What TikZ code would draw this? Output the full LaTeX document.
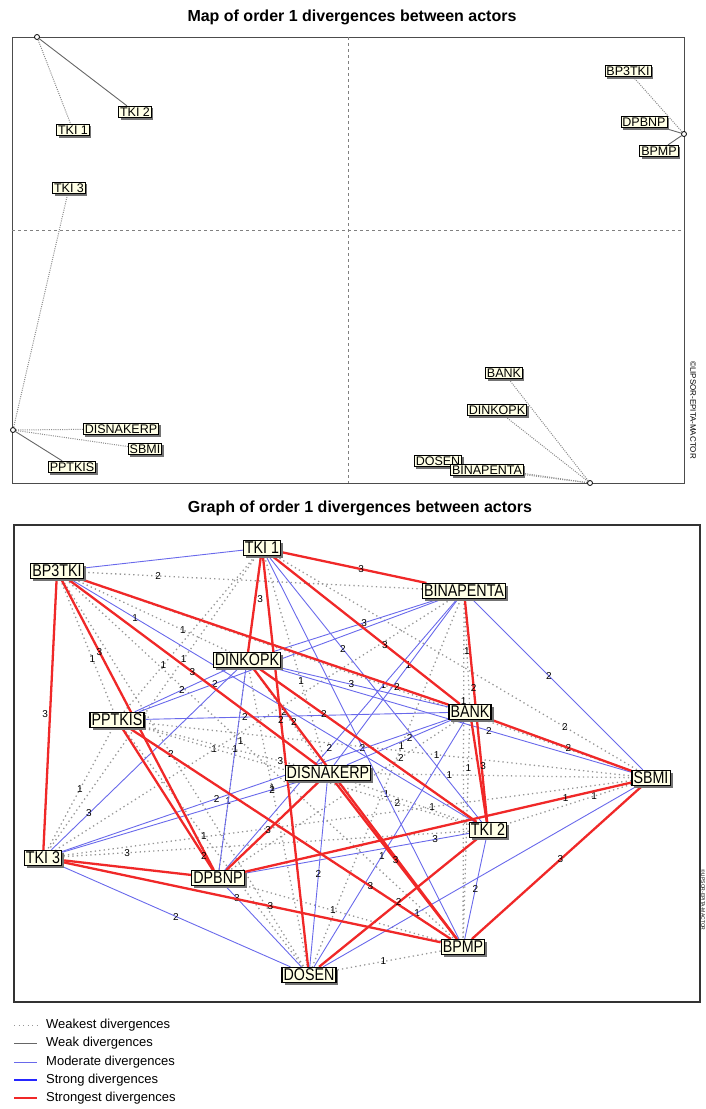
\documentclass[tikz,border=0pt]{standalone}
\usepackage{fontspec}
\setmainfont{Liberation Sans}
\newfontfamily\narrowfont{Liberation Sans}[FakeStretch=0.84]
\usetikzlibrary{shadows,backgrounds}

\definecolor{boxfill}{RGB}{255,255,230}
\definecolor{divred}{RGB}{240,40,40}
\definecolor{divblue}{RGB}{105,105,235}
\definecolor{divgray}{RGB}{150,150,150}

\tikzset{
  actor/.style={draw=black, fill=boxfill, line width=1.1pt, inner sep=1.6pt,
    font=\narrowfont\fontsize{17}{17}\selectfont,
    drop shadow={shadow xshift=2.5pt, shadow yshift=-2.5pt, fill=black!55, opacity=1}},
  mapactor/.style={draw=black, fill=boxfill, line width=0.8pt, inner sep=1.4pt,
    font=\fontsize{12.5}{12.5}\selectfont,
    drop shadow={shadow xshift=2pt, shadow yshift=-2pt, fill=black!55, opacity=1}},
  pt/.style={circle, draw, fill=white, inner sep=0pt, minimum size=5pt, line width=0.8pt},
  weakest/.style={divgray, line width=1.3pt, dash pattern=on 1.3pt off 3.2pt},
  mapdot/.style={black!45, line width=1pt, dash pattern=on 1pt off 1.2pt},
  weak/.style={black!60, line width=0.9pt},
  moderate/.style={divblue, line width=0.9pt},
  strong/.style={blue!85, line width=2pt},
  strongest/.style={divred, line width=2.3pt},
  num/.style={text=black, font=\fontsize{10}{10}\selectfont, inner sep=1pt},
  title/.style={font=\bfseries\fontsize{16}{16}\selectfont},
  legtext/.style={font=\fontsize{13}{13}\selectfont, anchor=west, inner sep=0pt},
}

\begin{document}
\begin{tikzpicture}[x=1pt,y=-1pt]
\useasboundingbox (0,0) rectangle (705,1109);

% map of divergences
\node[title] (maptitle) at (352,17) {Map of order 1 divergences between actors};
\draw[black!70, line width=0.8pt] (12,37) rectangle (684,483);
\draw[black!50, dashed, line width=0.5pt] (348,37) -- (348,483);
\draw[black!50, dashed, line width=0.5pt] (12,230) -- (684,230);
\node[rotate=-90, font=\fontsize{8}{8}\selectfont] (copy1) at (693,410) {©LIPSOR-EPITA-MACTOR};

\node[pt] (pA) at (37,37) {};
\node[pt] (pB) at (684,134) {};
\node[pt] (pC) at (13,430) {};
\node[pt] (pD) at (590,483) {};

\node[mapactor] (m-tki2) at (135,112) {TKI 2};
\node[mapactor] (m-tki1) at (73,130) {TKI 1};
\node[mapactor] (m-tki3) at (69,188) {TKI 3};
\node[mapactor] (m-bp3tki) at (628,71) {BP3TKI};
\node[mapactor] (m-dpbnp) at (644,122) {DPBNP};
\node[mapactor] (m-bpmp) at (659,151) {BPMP};
\node[mapactor] (m-disnakerp) at (121,429) {DISNAKERP};
\node[mapactor] (m-sbmi) at (145,449) {SBMI};
\node[mapactor] (m-pptkis) at (72,467) {PPTKIS};
\node[mapactor] (m-bank) at (504,373) {BANK};
\node[mapactor] (m-dinkopk) at (497,410) {DINKOPK};
\node[mapactor] (m-dosen) at (438,461) {DOSEN};
\node[mapactor] (m-binapenta) at (487,470) {BINAPENTA};

\begin{pgfonlayer}{background}
\draw[weak] (pA) -- (m-tki2);
\draw[mapdot] (pA) -- (m-tki1);
\draw[mapdot] (pC) -- (m-tki3);
\draw[mapdot] (pB) -- (m-bp3tki);
\draw[weak] (pB) -- (m-dpbnp);
\draw[weak] (pB) -- (m-bpmp);
\draw[mapdot] (pC) -- (m-disnakerp);
\draw[mapdot] (pC) -- (m-sbmi);
\draw[weak] (pC) -- (m-pptkis);
\draw[mapdot] (pD) -- (m-bank);
\draw[mapdot] (pD) -- (m-dinkopk);
\draw[mapdot] (pD) -- (m-dosen);
\draw[mapdot] (pD) -- (m-binapenta);
\end{pgfonlayer}

% graph of divergences
\node[title] (graphtitle) at (360,508) {Graph of order 1 divergences between actors};
\draw[black!80, line width=1.2pt] (14,525) rectangle (700,1002);
\node[rotate=-90, font=\fontsize{5}{5}\selectfont] (copy2) at (703,900) {©LIPSOR-EPITA-MACTOR};

\node[actor] (tki1) at (262,548) {TKI 1};
\node[actor] (bp3tki) at (57,571) {BP3TKI};
\node[actor] (binapenta) at (464,591) {BINAPENTA};
\node[actor] (dinkopk) at (247,660) {DINKOPK};
\node[actor] (pptkis) at (117,720) {PPTKIS};
\node[actor] (bank) at (470,712) {BANK};
\node[actor] (disnakerp) at (328,773) {DISNAKERP};
\node[actor] (sbmi) at (651,778) {SBMI};
\node[actor] (tki2) at (488,830) {TKI 2};
\node[actor] (tki3) at (43,858) {TKI 3};
\node[actor] (dpbnp) at (218,878) {DPBNP};
\node[actor] (bpmp) at (463,947) {BPMP};
\node[actor] (dosen) at (309,975) {DOSEN};

\begin{pgfonlayer}{background}
% weakest
\draw[weakest] (bp3tki) -- node[num,pos=0.22]{2} (binapenta);
\draw[weakest] (bp3tki) -- node[num,pos=0.7]{1} (dinkopk);
\draw[weakest] (bp3tki) -- node[num,pos=0.6]{1} (pptkis);
\draw[weakest] (bp3tki) -- node[num,pos=0.55]{1} (sbmi);
\draw[weakest] (bp3tki) -- node[num,pos=0.45]{1} (bpmp);
\draw[weakest] (bp3tki) -- node[num,pos=0.45]{2} (dosen);
\draw[weakest] (tki1) -- node[num,pos=0.7]{1} (pptkis);
\draw[weakest] (tki1) -- node[num,pos=0.6]{1} (disnakerp);
\draw[weakest] (tki1) -- node[num,pos=0.8]{2} (sbmi);
\draw[weakest] (tki1) -- node[num,pos=0.35]{1} (tki3);
\draw[weakest] (tki1) -- node[num,pos=0.78]{1} (dpbnp);
\draw[weakest] (binapenta) -- node[num]{1} (bank);
\draw[weakest] (binapenta) -- node[num,pos=0.6]{1} (tki3);
\draw[weakest] (binapenta) -- node[num,pos=0.3]{1} (bpmp);
\draw[weakest] (binapenta) -- node[num,pos=0.4]{1} (dosen);
\draw[weakest] (dinkopk) -- node[num,pos=0.45]{2} (disnakerp);
\draw[weakest] (dinkopk) -- node[num,pos=0.4]{1} (dosen);
\draw[weakest] (pptkis) -- node[num,pos=0.9]{3} (disnakerp);
\draw[weakest] (pptkis) -- node[num,pos=0.6]{1} (sbmi);
\draw[weakest] (pptkis) -- node[num,pos=0.78]{2} (tki2);
\draw[weakest] (pptkis) -- node[num,pos=0.5]{1} (tki3);
\draw[weakest] (pptkis) -- node[num,pos=0.45]{1} (dosen);
\draw[weakest] (bank) -- node[num,pos=0.25]{2} (dpbnp);
\draw[weakest] (bank) -- node[num,pos=0.22]{1} (bpmp);
\draw[weakest] (disnakerp) -- node[num,pos=0.3]{1} (sbmi);
\draw[weakest] (disnakerp) -- node[num,pos=0.3]{1} (tki2);
\draw[weakest] (sbmi) -- node[num,pos=0.3]{1} (tki2);
\draw[weakest] (sbmi) -- node[num,pos=0.35]{1} (tki3);
\draw[weakest] (tki2) -- node[num,pos=0.84]{3} (tki3);
\draw[weakest] (dpbnp) -- node[num,pos=0.45]{1} (bpmp);
\draw[weakest] (bpmp) -- node[num,pos=0.55]{1} (dosen);
% moderate
\draw[moderate] (bp3tki) -- (tki1);
\draw[moderate] (bp3tki) -- node[num,pos=0.16]{1} (tki2);
\draw[moderate] (tki1) -- node[num,pos=0.35]{2} (tki2);
\draw[moderate] (tki1) -- node[num,pos=0.5]{2} (bpmp);
\draw[moderate] (binapenta) -- node[num,pos=0.45]{3} (dinkopk);
\draw[moderate] (binapenta) -- node[num,pos=0.75]{2} (pptkis);
\draw[moderate] (binapenta) -- node[num,pos=0.4]{1} (disnakerp);
\draw[moderate] (binapenta) -- node[num,pos=0.45]{2} (sbmi);
\draw[moderate] (binapenta) -- node[num,pos=0.55]{2} (dpbnp);
\draw[moderate] (dinkopk) -- node[num,pos=0.5]{2} (pptkis);
\draw[moderate] (dinkopk) -- node[num,pos=0.42]{3} (bank);
\draw[moderate] (dinkopk) -- node[num,pos=0.6]{2} (sbmi);
\draw[moderate] (dinkopk) -- node[num,pos=0.8]{3} (tki3);
\draw[moderate] (dinkopk) -- node[num,pos=0.4]{1} (dpbnp);
\draw[moderate] (pptkis) -- node[num,pos=0.33]{2} (bank);
\draw[moderate] (bank) -- node[num,pos=0.4]{2} (disnakerp);
\draw[moderate] (bank) -- node[num,pos=0.6]{2} (tki3);
\draw[moderate] (bank) -- node[num,pos=0.55]{1} (dosen);
\draw[moderate] (disnakerp) -- node[num,pos=0.12]{2} (tki3);
\draw[moderate] (disnakerp) -- node[num,pos=0.5]{2} (dosen);
\draw[moderate] (sbmi) -- node[num,pos=0.7]{1} (dosen);
\draw[moderate] (tki2) -- node[num,pos=0.15]{3} (dpbnp);
\draw[moderate] (tki2) -- node[num,pos=0.5]{2} (bpmp);
\draw[moderate] (tki3) -- node[num,pos=0.5]{2} (dosen);
\draw[moderate] (dpbnp) -- node[num,pos=0.15]{3} (dosen);
% strongest
\draw[strongest] (bp3tki) -- node[num,left,pos=0.5]{3} (tki3);
\draw[strongest] (bp3tki) -- node[num,pos=0.25]{3} (dpbnp);
\draw[strongest] (bp3tki) -- node[num,pos=0.86]{2} (bank);
\draw[strongest] (bp3tki) -- node[num,pos=0.5]{3} (disnakerp);
\draw[strongest] (tki1) -- node[num,pos=0.55]{3} (binapenta);
\draw[strongest] (tki1) -- node[num,right,pos=0.45]{3} (dinkopk);
\draw[strongest] (tki1) -- node[num,pos=0.6]{3} (bank);
\draw[strongest] (tki1) -- node[num,pos=0.4]{2} (dosen);
\draw[strongest] (binapenta) -- node[num,pos=0.4]{2} (tki2);
\draw[strongest] (dinkopk) -- node[num,pos=0.3]{2} (tki2);
\draw[strongest] (dinkopk) -- node[num,pos=0.2]{2} (bpmp);
\draw[strongest] (pptkis) -- node[num,pos=0.9]{2} (dpbnp);
\draw[strongest] (pptkis) -- node[num,pos=0.75]{3} (bpmp);
\draw[strongest] (bank) -- node[num,pos=0.55]{2} (sbmi);
\draw[strongest] (bank) -- node[num,right,pos=0.45]{3} (tki2);
\draw[strongest] (disnakerp) -- node[num,pos=0.55]{3} (dpbnp);
\draw[strongest] (disnakerp) -- node[num,pos=0.5]{3} (bpmp);
\draw[strongest] (sbmi) -- node[num,pos=0.17]{1} (dpbnp);
\draw[strongest] (sbmi) -- node[num,pos=0.48]{3} (bpmp);
\draw[strongest] (tki2) -- node[num,pos=0.5]{2} (dosen);
\draw[strongest] (tki3) -- (dpbnp);
\draw[strongest] (tki3) -- node[num,pos=0.55]{3} (bpmp);
\end{pgfonlayer}

% legend
\draw[weakest, line width=1pt] (14,1025) -- (37,1025);
\node[legtext] (leg1) at (46,1025) {Weakest divergences};
\draw[weak] (14,1043) -- (37,1043);
\node[legtext] (leg2) at (46,1043) {Weak divergences};
\draw[moderate] (14,1062) -- (37,1062);
\node[legtext] (leg3) at (46,1062) {Moderate divergences};
\draw[strong] (14,1080) -- (37,1080);
\node[legtext] (leg4) at (46,1080) {Strong divergences};
\draw[strongest] (14,1098) -- (37,1098);
\node[legtext] (leg5) at (46,1098) {Strongest divergences};
\end{tikzpicture}
\end{document}
